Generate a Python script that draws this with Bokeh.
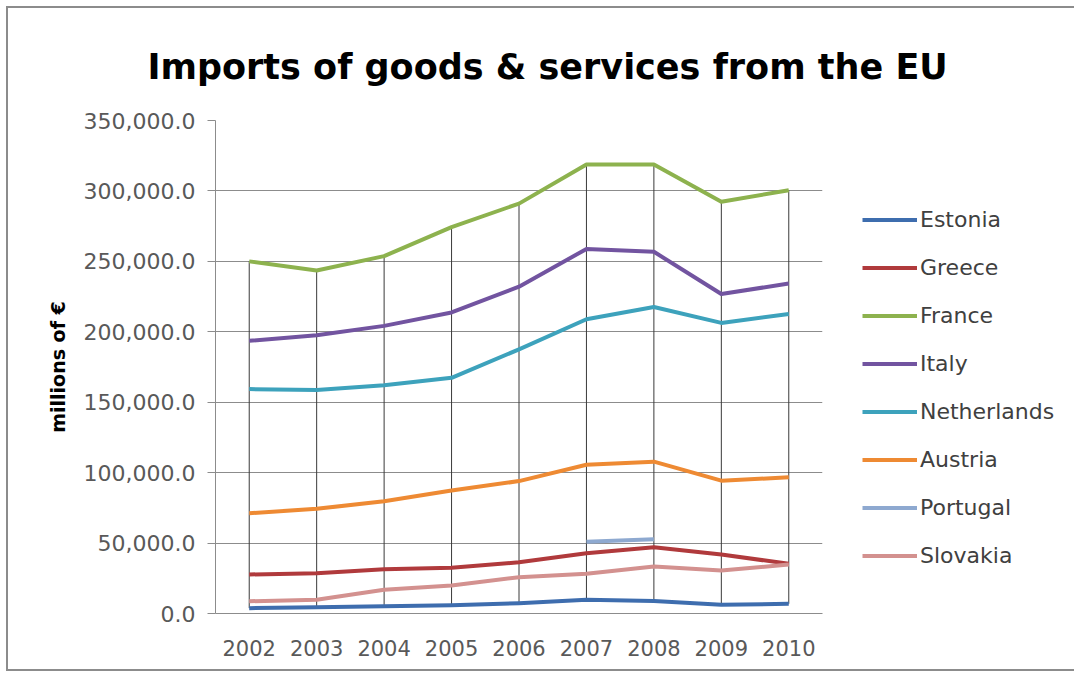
from bokeh.plotting import figure
from bokeh.models import (FactorRange, Range1d, FixedTicker, NumeralTickFormatter,
                          Legend, LegendItem)
from bokeh.embed import file_html
from bokeh.resources import INLINE
import math

years = ["2002", "2003", "2004", "2005", "2006", "2007", "2008", "2009", "2010"]
nan = float("nan")

estonia = [3800, 4500, 5200, 5900, 7300, 9700, 8800, 6200, 6900]
greece = [27700, 28600, 31500, 32400, 36400, 42800, 47000, 41900, 35300]
france = [250000, 243500, 253700, 274300, 291000, 318800, 318800, 292300, 300500]
italy = [193600, 197600, 204200, 213700, 232000, 258800, 256800, 226800, 234300]
netherlands = [159300, 158600, 162000, 167300, 187500, 208900, 217600, 206300, 212600]
austria = [71200, 74300, 79700, 87300, 94000, 105600, 107800, 94300, 96700]
portugal = [nan, nan, nan, nan, nan, 51000, 52800, nan, nan]
slovakia = [8700, 9700, 16800, 19900, 25800, 28200, 33400, 30500, 34800]

series_names = ["Estonia", "Greece", "France", "Italy", "Netherlands", "Austria", "Portugal", "Slovakia"]
series_values = [estonia, greece, france, italy, netherlands, austria, portugal, slovakia]
series_colors = ["#3E6DAE", "#B03A3C", "#8DB24E", "#7254A0", "#3DA2BC", "#EE8A33", "#8EA9D0", "#D3918F"]

y_ticks = [0, 50000, 100000, 150000, 200000, 250000, 300000, 350000]

FONT = "DejaVu Sans"
GRID = "#8c8c8c"

p = figure(x_range=FactorRange(*years, range_padding=0), y_range=Range1d(0, 350000),
           frame_width=607, frame_height=493, output_backend="svg", toolbar_location=None,
           min_border_left=215, min_border_right=246, min_border_top=120, min_border_bottom=64)

p.styles = {"outline": "2px solid #8c8c8c", "outline-offset": "-8px"}
p.outline_line_color = None
p.background_fill_color = "white"
p.border_fill_alpha = 0

# title
p.title.text = "Imports of goods & services from the EU"
p.title.align = "left"
p.title.text_font = FONT
p.title.text_font_style = "bold"
p.title.text_font_size = "35px"
p.title.text_color = "black"
p.title.offset = -68
p.title.standoff = 67

# grids
p.xgrid.grid_line_color = None
p.ygrid.grid_line_color = GRID
p.ygrid.grid_line_width = 1
p.ygrid.ticker = FixedTicker(ticks=y_ticks)

# y axis
p.yaxis.ticker = FixedTicker(ticks=y_ticks)
p.yaxis.formatter = NumeralTickFormatter(format="0,0.0")
p.yaxis.axis_line_color = GRID
p.yaxis.major_tick_line_color = GRID
p.yaxis.major_tick_out = 8
p.yaxis.major_tick_in = 0
p.yaxis.minor_tick_line_color = None
p.yaxis.major_label_text_font = FONT
p.yaxis.major_label_text_font_size = "22px"
p.yaxis.major_label_text_color = "#595959"
p.yaxis.major_label_standoff = 12
p.yaxis.axis_label = "millions of €"
p.yaxis.axis_label_text_font = FONT
p.yaxis.axis_label_text_font_style = "bold"
p.yaxis.axis_label_text_font_size = "19px"
p.yaxis.axis_label_text_color = "black"
p.yaxis.axis_label_standoff = 12

# x axis
p.xaxis.axis_line_color = GRID
p.xaxis.major_tick_line_color = None
p.xaxis.minor_tick_line_color = None
p.xaxis.major_label_text_font = FONT
p.xaxis.major_label_text_font_size = "21px"
p.xaxis.major_label_text_color = "#595959"
p.xaxis.major_label_standoff = 20

# high-low lines
highs = [max(v for v in col if not math.isnan(v)) for col in zip(*series_values)]
lows = [min(v for v in col if not math.isnan(v)) for col in zip(*series_values)]
p.segment(x0=years, y0=highs, x1=years, y1=lows, line_color="#3a3a3a", line_width=1)

items = []
for name, vals, col in zip(series_names, series_values, series_colors):
    r = p.line(x=years, y=vals, line_color=col, line_width=4, line_join="round")
    items.append(LegendItem(label=name, renderers=[r]))

legend = Legend(items=items, location=(40, 45), orientation="vertical",
                glyph_width=55, glyph_height=21, label_height=21, spacing=23,
                label_standoff=3, padding=0, margin=0,
                label_text_font=FONT, label_text_font_size="22px",
                label_text_color="#404040",
                border_line_color=None, background_fill_alpha=0)
p.add_layout(legend, "right")

open("out.html", "w").write(file_html(p, INLINE))
